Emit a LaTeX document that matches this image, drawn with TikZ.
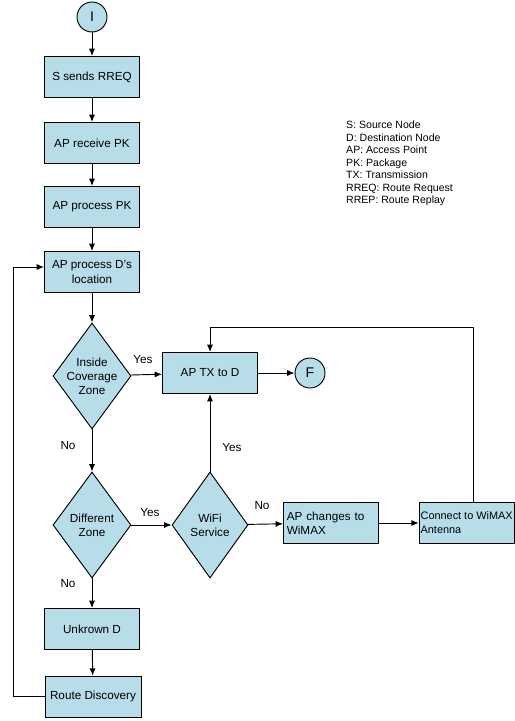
\documentclass[tikz,border=0pt]{standalone}
\usepackage{fontspec}
\setmainfont{Liberation Sans}
\usetikzlibrary{arrows.meta,shapes.geometric}

\definecolor{boxfill}{RGB}{183,221,232}

\begin{document}
\begin{tikzpicture}[
    font=\fontsize{9}{10.7}\selectfont,
    >=Latex,
    block/.style={draw, thick, fill=boxfill, align=center, minimum width=28.5mm, minimum height=12.3mm, inner sep=2pt, font=\fontsize{10}{12}\selectfont},
    leftblock/.style={block, align=left, text width=26.5mm},
    decision/.style={draw, thick, fill=boxfill, diamond, aspect=0.74, align=center, inner sep=0pt, minimum width=23.4mm, minimum height=31.8mm, font=\fontsize{10}{12}\selectfont},
    terminal/.style={draw, thick, fill=boxfill, circle, minimum size=9mm, inner sep=0pt, font=\fontsize{12}{14}\selectfont},
    lbl/.style={inner sep=1pt, font=\fontsize{10}{12}\selectfont},
    arrow/.style={-{Latex[length=2.2mm,width=1.8mm]}, thick}
]
\useasboundingbox (0,0) rectangle (15.45,-21.63);

\node[terminal] (start) at (2.76, -0.51) {I};
\node[block] (sendreq) at (2.76, -2.31) {S sends RREQ};
\node[block] (receive) at (2.76, -4.29) {AP receive PK};
\node[block] (processpk) at (2.76, -6.21) {AP process PK};
\node[block] (location) at (2.76, -8.16) {AP process D's\\location};

\node[decision] (coverage) at (2.76, -11.28) {Inside\\Coverage\\Zone};
\node[block] (txd) at (6.3, -11.19) {AP TX to D};
\node[terminal] (finish) at (9.3, -11.19) {F};

\node[decision] (zone) at (2.76, -15.75) {Different\\Zone};
\node[decision, minimum width=22.8mm] (wifi) at (6.3, -15.75) {WiFi\\Service};
\node[leftblock] (wimax) at (9.93, -15.69) {AP changes to\\WiMAX};
\node[block, align=left, inner sep=0.5pt, font=\fontsize{9.3}{12}\selectfont] (antenna) at (14.0, -15.69) {Connect to WiMAX\\Antenna};

\node[block] (unknown) at (2.76, -18.87) {Unkrown D};
\node[block, minimum width=28.8mm] (discovery) at (2.79, -20.9) {Route Discovery};

% legend
\node[anchor=north west, align=left, inner sep=0pt] (legend) at (10.38, -3.62) {S: Source Node\\D: Destination Node\\AP: Access Point\\PK: Package\\TX: Transmission\\RREQ: Route Request\\RREP: Route Replay};

% labels
\node[lbl] (yes1) at (4.29, -10.8) {Yes};
\node[lbl] (no1) at (2.04, -13.38) {No};
\node[lbl] (yes2) at (6.96, -13.44) {Yes};
\node[lbl] (yes3) at (4.5, -15.39) {Yes};
\node[lbl] (no2) at (7.86, -15.18) {No};
\node[lbl] (no3) at (2.04, -17.52) {No};

\draw[arrow] (start) -- (sendreq);
\draw[arrow] (sendreq) -- (receive);
\draw[arrow] (receive) -- (processpk);
\draw[arrow] (processpk) -- (location);
\draw[arrow] (location) -- (coverage);
\draw[arrow] (coverage) -- (txd);
\draw[arrow] (txd) -- (finish);
\draw[arrow] (coverage) -- (zone);
\draw[arrow] (zone) -- (wifi);
\draw[arrow] (wifi) -- (txd);
\draw[arrow] (wifi) -- (wimax);
\draw[arrow] (wimax) -- (antenna);
\draw[arrow] (zone) -- (unknown);
\draw[arrow] (unknown) -- (discovery);

\draw[arrow] ([xshift=2mm]antenna.north) -- ++(0,5.24) -| (txd.north);
\draw[arrow] (discovery.west) -- ++(-0.93,0) |- ([yshift=1.5mm]location.west);
\end{tikzpicture}
\end{document}
